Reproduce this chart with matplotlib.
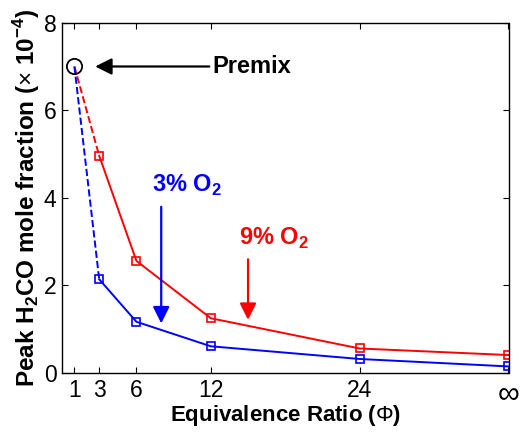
import matplotlib
matplotlib.use("Agg")
import matplotlib.pyplot as plt

plt.rcParams['font.family'] = ['Liberation Sans', 'DejaVu Sans']
plt.rcParams['mathtext.fontset'] = 'custom'
plt.rcParams['mathtext.rm'] = 'Liberation Sans'
plt.rcParams['mathtext.bf'] = 'Liberation Sans:bold'

# x position 36 stands for infinity
phi = [3, 6, 12, 24, 36]
o2_9 = [4.96, 2.56, 1.25, 0.56, 0.41]
o2_3 = [2.14, 1.17, 0.61, 0.32, 0.15]
premix_phi = 1
premix_val = 7.0
xticks = [1, 3, 6, 12, 24, 36]
xticklabels = ["1", "3", "6", "12", "24", "\u221e"]

fig = plt.figure(figsize=(5.31, 4.36), dpi=100)
ax = fig.add_axes([62 / 531, 1 - 373 / 436, (508.5 - 62) / 531, (373 - 22.7) / 436])

# dashed connections from the premix point
ax.plot([premix_phi, phi[0]], [premix_val, o2_9[0]], color="red", ls="--", lw=1.4)
ax.plot([premix_phi, phi[0]], [premix_val, o2_3[0]], color="blue", ls="--", lw=1.4)

ax.plot(phi, o2_9, color="red", marker="s", mfc="none", ms=5.5, mew=1.2, lw=1.4)
ax.plot(phi, o2_3, color="blue", marker="s", mfc="none", ms=5.5, mew=1.2, lw=1.4)
ax.plot([premix_phi], [premix_val], marker="o", mfc="none", mec="black", ms=11, mew=1.3)

head = "-|>,head_length=1.0,head_width=0.5"
ax.annotate("", xy=(2.45, 7.0), xytext=(12.1, 7.0),
            arrowprops=dict(arrowstyle=head, color="black", lw=1.6))
ax.text(12.1, 7.0, "Premix", fontsize=17, fontweight="bold", va="center", ha="left")

ax.annotate("", xy=(8.0, 1.07), xytext=(8.0, 3.86),
            arrowprops=dict(arrowstyle=head, color="blue", lw=1.6))
ax.text(10.1, 4.29, r"3% O$_\mathbf{2}$", fontsize=17, fontweight="bold", color="blue",
        ha="center", va="center")

ax.annotate("", xy=(15.0, 1.15), xytext=(15.0, 2.66),
            arrowprops=dict(arrowstyle=head, color="red", lw=1.6))
ax.text(17.1, 3.08, r"9% O$_\mathbf{2}$", fontsize=17, fontweight="bold", color="red",
        ha="center", va="center")

ax.set_xlim(0, 36)
ax.set_ylim(0, 8)
ax.set_xticks(xticks)
ax.set_xticklabels(xticklabels)
ax.set_yticks([0, 2, 4, 6, 8])
ax.tick_params(direction="in", top=True, right=True, labelsize=16.5, length=4, width=0.8, pad=4)
ax.get_xticklabels()[-1].set_fontsize(22)
ax.set_xlabel(r"Equivalence Ratio ($\Phi$)", fontsize=16, fontweight="bold")
ax.xaxis.set_label_coords(0.5, -0.086)
ax.set_ylabel(r"Peak H$_\mathbf{2}$CO mole fraction ($\times$ 10$^\mathbf{-4}$)", fontsize=17.5,
              fontweight="bold", labelpad=1)
for s in ax.spines.values():
    s.set_linewidth(1.0)

fig.savefig("out.png", dpi=100)
